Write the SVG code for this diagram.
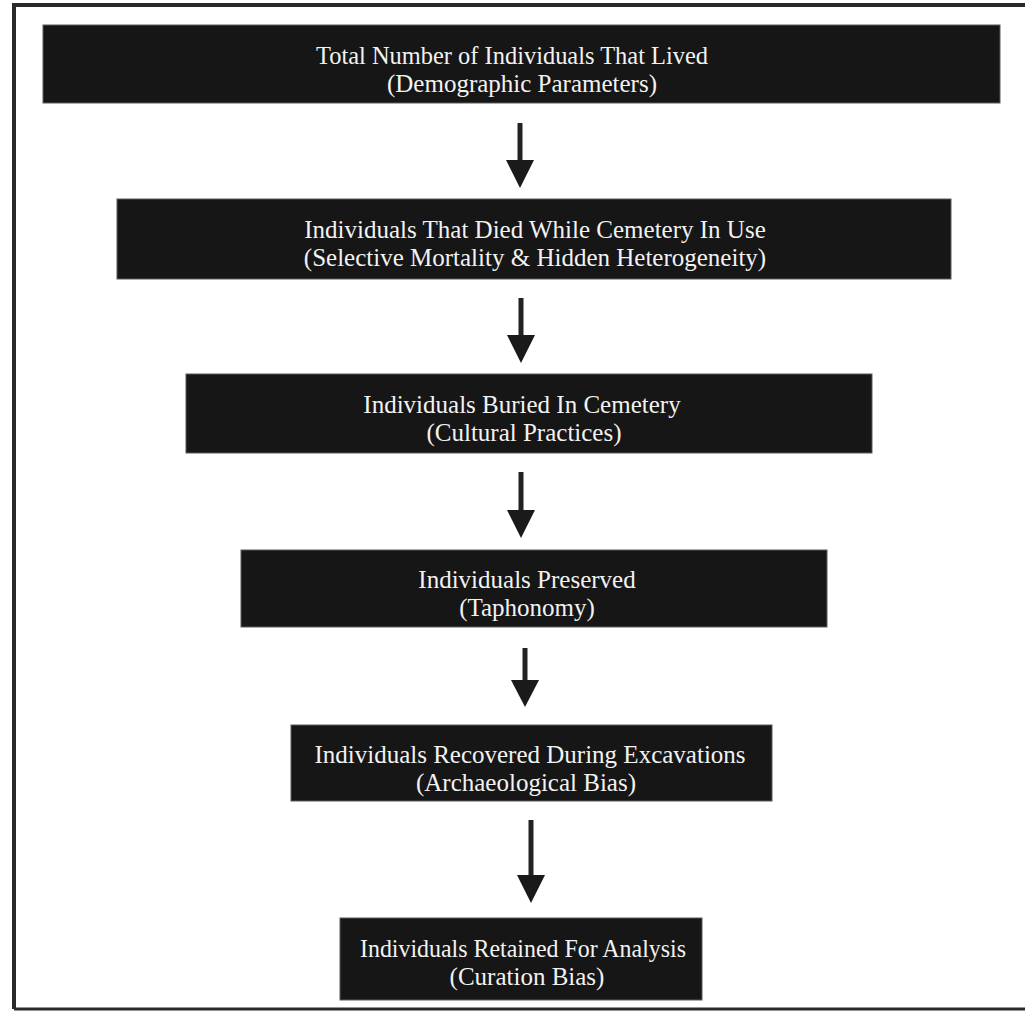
<svg xmlns="http://www.w3.org/2000/svg" width="1025" height="1012" viewBox="0 0 1025 1012">
<style>
.box{fill:#161616;stroke:#5a5a5a;stroke-width:1}
.t{font-family:"Liberation Serif","Times New Roman",serif;font-size:25px;fill:#f2f2f2;text-anchor:middle}
.shaft{stroke:#222;stroke-width:5;fill:none}
.head{fill:#1a1a1a}
</style>
<rect width="1025" height="1012" fill="#ffffff"/>
<g id="frame" fill="none" stroke="#2a2a2a" stroke-width="4">
<path d="M14 1009 V5 H1025"/>
<path d="M14 1009 H1025" stroke-width="3"/>
</g>
<g id="node1"><rect class="box" x="43" y="25" width="957" height="78"/>
<text class="t" x="512" y="64" textLength="392" lengthAdjust="spacingAndGlyphs">Total Number of Individuals That Lived</text>
<text class="t" x="522" y="92">(Demographic Parameters)</text></g>
<g id="node2"><rect class="box" x="117" y="199" width="834" height="80"/>
<text class="t" x="535" y="238">Individuals That Died While Cemetery In Use</text>
<text class="t" x="535" y="266">(Selective Mortality &amp; Hidden Heterogeneity)</text></g>
<g id="node3"><rect class="box" x="186" y="374" width="686" height="79"/>
<text class="t" x="522" y="413">Individuals Buried In Cemetery</text>
<text class="t" x="524" y="441">(Cultural Practices)</text></g>
<g id="node4"><rect class="box" x="241" y="550" width="586" height="77"/>
<text class="t" x="527" y="588">Individuals Preserved</text>
<text class="t" x="527" y="616">(Taphonomy)</text></g>
<g id="node5"><rect class="box" x="291" y="725" width="481" height="76"/>
<text class="t" x="530" y="763">Individuals Recovered During Excavations</text>
<text class="t" x="526" y="791">(Archaeological Bias)</text></g>
<g id="node6"><rect class="box" x="340" y="918" width="362" height="82"/>
<text class="t" x="523" y="957" textLength="326" lengthAdjust="spacingAndGlyphs">Individuals Retained For Analysis</text>
<text class="t" x="527" y="985">(Curation Bias)</text></g>
<g id="connectors">
<line class="shaft" x1="520" y1="123" x2="520" y2="162"/><polygon class="head" points="506,160 534,160 520,188"/>
<line class="shaft" x1="521" y1="298" x2="521" y2="337"/><polygon class="head" points="507,335 535,335 521,363"/>
<line class="shaft" x1="521" y1="472" x2="521" y2="512"/><polygon class="head" points="507,510 535,510 521,538"/>
<line class="shaft" x1="525" y1="648" x2="525" y2="682"/><polygon class="head" points="511,680 539,680 525,707"/>
<line class="shaft" x1="531" y1="820" x2="531" y2="877"/><polygon class="head" points="517,875 545,875 531,903"/>
</g>
</svg>
